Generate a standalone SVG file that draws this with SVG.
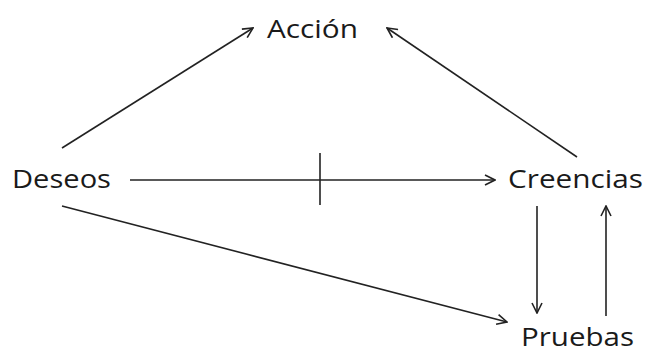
<svg xmlns="http://www.w3.org/2000/svg" width="648" height="355" viewBox="0 0 648 355">
<style>
text{font-family:"Open Sans","Noto Sans",sans-serif;font-size:26px;fill:#1a1a1a}
.c line{stroke:#222;stroke-width:1.6;fill:none}
</style>
<defs>
<marker id="a" viewBox="0 0 12 12" refX="11" refY="6" markerWidth="12" markerHeight="12" markerUnits="userSpaceOnUse" orient="auto">
<path d="M1,1 L11,6 L1,11" fill="none" stroke="#222" stroke-width="1.6"/>
</marker>
</defs>
<rect width="648" height="355" fill="#fff"/>
<g id="accion"><text x="267" y="38" textLength="91" lengthAdjust="spacingAndGlyphs">Acción</text></g>
<g id="deseos"><text x="12" y="188" textLength="99" lengthAdjust="spacingAndGlyphs">Deseos</text></g>
<g id="creencias"><text x="508" y="188" textLength="135" lengthAdjust="spacingAndGlyphs">Creencias</text></g>
<g id="pruebas"><text x="521" y="346" textLength="113" lengthAdjust="spacingAndGlyphs">Pruebas</text></g>
<g class="c" id="connectors">
<line x1="62" y1="148" x2="253" y2="28" marker-end="url(#a)"/>
<line x1="577" y1="157" x2="387" y2="28" marker-end="url(#a)"/>
<line x1="130" y1="180" x2="495" y2="180" marker-end="url(#a)"/>
<line x1="320" y1="153" x2="320" y2="205"/>
<line x1="537" y1="206" x2="537" y2="313" marker-end="url(#a)"/>
<line x1="606" y1="316" x2="606" y2="206" marker-end="url(#a)"/>
<line x1="62" y1="206" x2="507" y2="322" marker-end="url(#a)"/>
</g>
</svg>
